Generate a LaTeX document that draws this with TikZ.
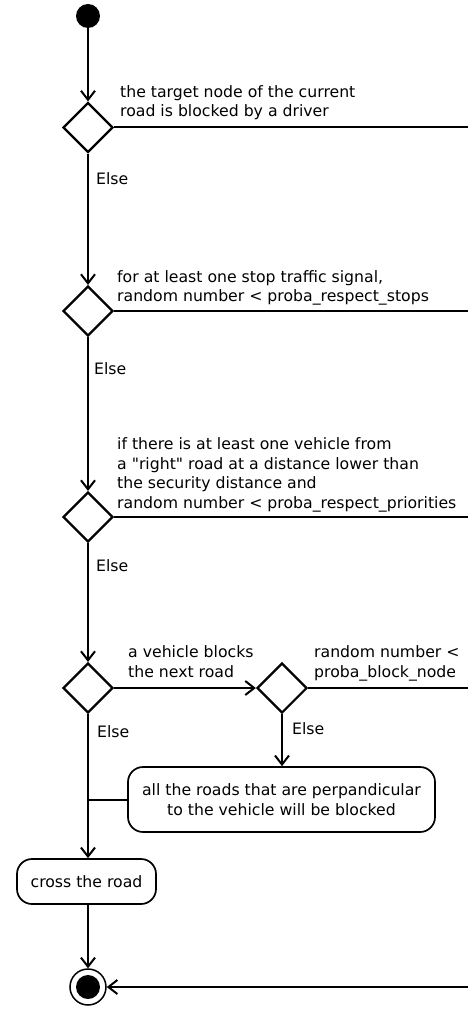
\documentclass[tikz,border=0pt]{standalone}
\usepackage{fontspec}
\setmainfont{DejaVu Sans}[Ligatures=TeXOff]
\usetikzlibrary{arrows.meta,shapes.geometric}
\tikzset{
  flow/.style={line width=2pt,-{Straight Barb[length=9pt,width=14pt,line width=2pt]}},
  branch/.style={line width=2pt},
  decision/.style={diamond,draw,line width=2.2pt,minimum width=50pt,minimum height=50pt,inner sep=0pt},
  activity/.style={draw,line width=1.7pt,rounded corners=15pt,align=center,inner sep=0pt},
  guard/.style={anchor=base west,align=left,inner sep=0pt},
}
\begin{document}
\begin{tikzpicture}[x=1pt,y=-1pt,font=\fontsize{15.7}{19.4}\selectfont]
        \useasboundingbox (0,0) rectangle (468,1011);
        % nodes
        \node[circle,fill,minimum size=24pt,inner sep=0pt] (start) at (88,16) {};
        \node[decision] (blocked) at (88,127.5) {};
        \node[decision] (stops) at (88,311) {};
        \node[decision] (prio) at (88,517) {};
        \node[decision] (vblock) at (88,688) {};
        \node[decision] (rblock) at (282,688) {};
        \node[activity,minimum width=307pt,minimum height=65pt] (perp) at (281.5,799.5)
        {all the roads that are perpandicular\\to the vehicle will be blocked};
        \node[activity,minimum width=139pt,minimum height=45pt] (cross) at (86.5,881.5) {cross the road};
        \node[circle,draw,line width=1.5pt,minimum size=36pt,inner sep=0pt,
        path picture={\fill (path picture bounding box.center) circle (12pt);}] (final) at (88,987) {};
        \coordinate (exit1) at (469,127.5);
        \coordinate (exit2) at (469,311);
        \coordinate (exit3) at (469,517);
        \coordinate (exit4) at (469,688);
        \coordinate (exit5) at (469,987);
        % guards
        \node[guard] (g1) at (120,116.5) {the target node of the current\\road is blocked by a driver};
        \node[guard] (g2) at (117,301.7) {for at least one stop traffic signal,\\random number < proba\_respect\_stops};
        \node[guard] (g3) at (117,508) {if there is at least one vehicle from\\a "right" road at a distance lower than\\the security distance and\\random number < proba\_respect\_priorities};
        \node[guard] (g4) at (128,677.3) {a vehicle blocks\\the next road};
        \node[guard] (g5) at (314,677.3) {random number <\\proba\_block\_node};
        \node[guard] (e1) at (96,185) {Else};
        \node[guard] (e2) at (94,374) {Else};
        \node[guard] (e3) at (96,571.7) {Else};
        \node[guard] (e4) at (97,737.7) {Else};
        \node[guard] (e5) at (292,734.3) {Else};
        % connectors
        \draw[flow] (start) -- (blocked);
        \draw[branch] (blocked.east) -- (exit1);
        \draw[flow] (blocked) -- (stops);
        \draw[branch] (stops.east) -- (exit2);
        \draw[flow] (stops) -- (prio);
        \draw[branch] (prio.east) -- (exit3);
        \draw[flow] (prio) -- (vblock);
        \draw[flow] (vblock) -- (rblock);
        \draw[branch] (rblock.east) -- (exit4);
        \draw[flow] (rblock.south) -- (rblock.south |- perp.north);
        \draw[flow] (vblock.south) -- (vblock.south |- cross.north);
        \draw[branch] (perp.west) -- (perp.west -| vblock);
        \draw[flow] (cross.south -| final) -- (final);
        \draw[flow] (exit5) -- (final);
      \end{tikzpicture}
\end{document}
